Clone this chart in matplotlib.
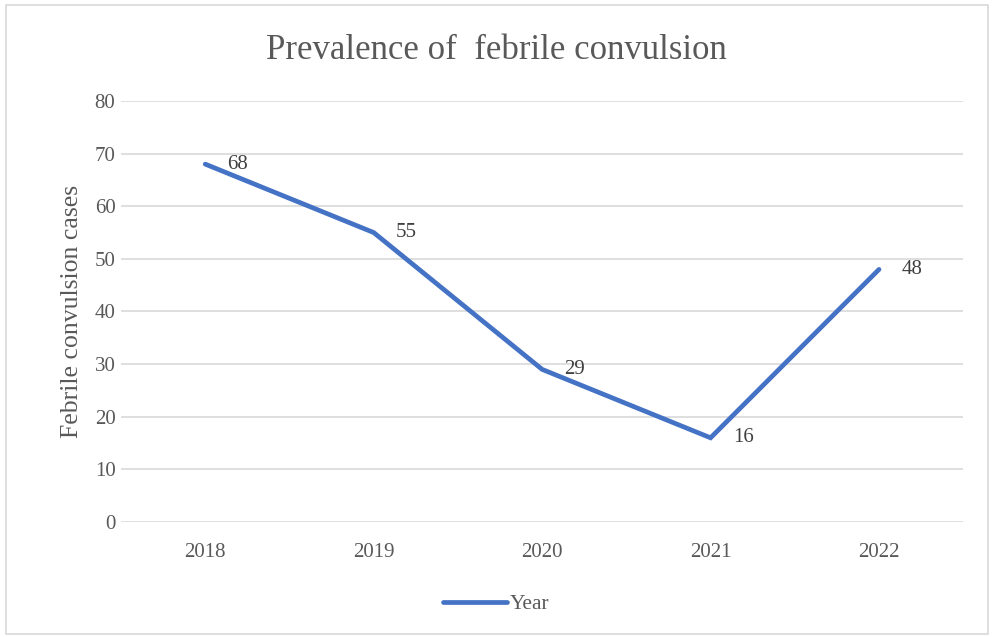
import matplotlib.pyplot as plt
from matplotlib.patches import Rectangle

years = ['2018', '2019', '2020', '2021', '2022']
cases = [68, 55, 29, 16, 48]

plt.rcParams['font.family'] = ['Liberation Serif', 'DejaVu Serif']

fig = plt.figure(figsize=(9.92, 6.37), dpi=100)
ax = fig.add_axes([0.122, 0.1805, 0.849, 0.661])

x = range(len(years))
ax.plot(x, cases, color='#4472C4', linewidth=3.4, solid_capstyle='round',
        solid_joinstyle='miter', label='Year', zorder=3)
for xi, v in zip(x, cases):
    ax.annotate(str(v), (xi, v), xytext=(16, 0), textcoords='offset points',
                ha='left', va='center', fontsize=15, color='#404040')

ax.set_xlim(-0.5, len(years) - 0.5)
ax.set_ylim(0, 80)
ax.set_yticks(range(0, 81, 10))
ax.set_xticks(list(x))
ax.set_xticklabels(years)
ax.grid(axis='y', color='#D9D9D9', linewidth=1.2)
ax.set_axisbelow(True)
for s in ax.spines.values():
    s.set_visible(False)
ax.tick_params(axis='y', length=0, labelsize=15, labelcolor='#595959', pad=4)
ax.tick_params(axis='x', length=0, labelsize=15, labelcolor='#595959', pad=15)
ax.set_ylabel('Febrile convulsion cases', fontsize=18.5, color='#595959', labelpad=8)

fig.suptitle('Prevalence of  febrile convulsion', y=0.947, fontsize=25, color='#595959')
fig.legend(loc='lower center', bbox_to_anchor=(0.5, 0.005), frameon=False,
           fontsize=15.5, handlelength=3.0, handletextpad=0.1, labelcolor='#595959')

fig.patches.append(Rectangle((0.006, 0.004), 0.99, 0.988, transform=fig.transFigure,
                             fill=False, edgecolor='#D9D9D9', linewidth=1.2))

fig.savefig('out.png')
